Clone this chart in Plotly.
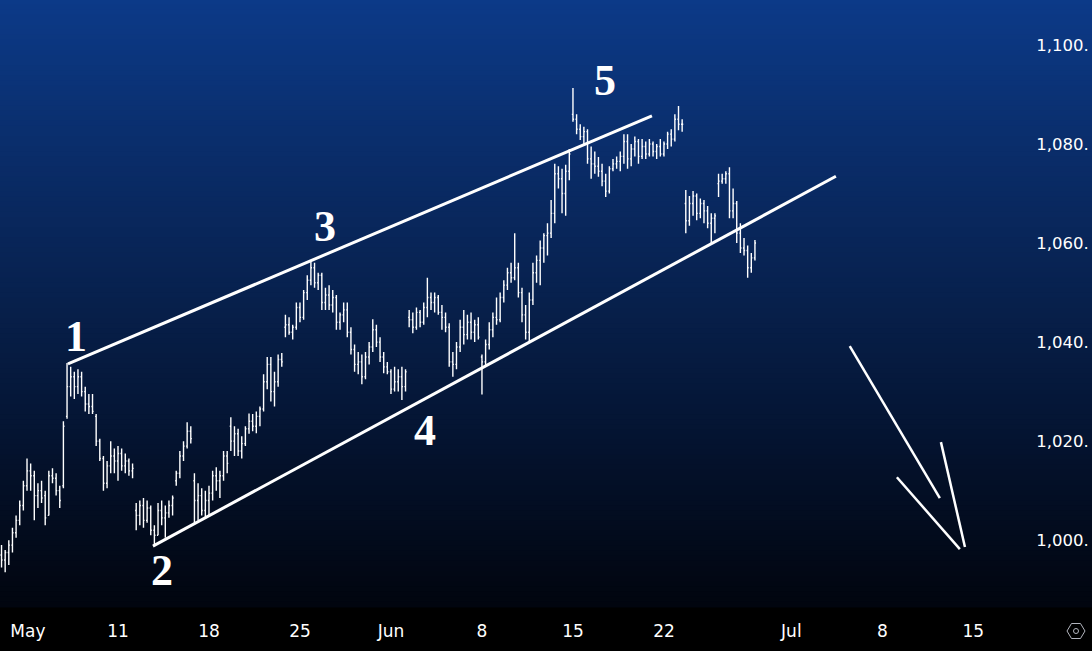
import numpy as np
import plotly.graph_objects as go

# ---------------- data ----------------
bars_per_day = 5          # bars per trading session
first_bar_day = -0.4      # trading-day index of the first bar (0 = May 1)

opens = [
    997, 996, 997.5, 999, 1001.5, 1004, 1007, 1011, 1014, 1013,
    1009, 1010, 1009, 1005, 1013, 1012.5, 1010, 1011, 1025, 1031,
    1033, 1031, 1033, 1030, 1027.5, 1027, 1025, 1020, 1016.5, 1011.5,
    1015, 1017, 1016, 1017.5, 1015, 1016, 1014, 1006, 1005, 1007,
    1004, 1006.5, 1002, 1001, 1006, 1004.5, 1005.5, 1007, 1012, 1013.5,
    1017, 1019, 1022, 1012, 1008, 1009, 1006, 1008, 1009.5, 1013,
    1012, 1013, 1017, 1023, 1020, 1021.5, 1018, 1019.5, 1022.5, 1024,
    1023, 1025, 1026.5, 1032, 1035.5, 1030, 1032, 1036.5, 1043, 1043.5,
    1042, 1043, 1047, 1045, 1050, 1052.5, 1055, 1052, 1053.5, 1048,
    1049.5, 1047.5, 1049, 1044, 1045.5, 1046.5, 1042, 1038.5, 1035.5, 1036,
    1033, 1037, 1039, 1042.5, 1040, 1037, 1035, 1034, 1030.5, 1032,
    1033, 1031, 1045, 1044.5, 1043, 1046, 1044, 1047, 1049, 1048,
    1049, 1046, 1045, 1043, 1036, 1035.5, 1039, 1043, 1041.5, 1044,
    1042, 1043.5, 1037, 1036, 1039.5, 1042.5, 1045, 1044.5, 1049, 1051.5,
    1054, 1053, 1055, 1050, 1045.5, 1042, 1048.5, 1054, 1056.5, 1059,
    1061.5, 1062, 1066, 1074, 1073, 1070, 1074.5, 1086, 1085, 1083,
    1081.5, 1082.5, 1077, 1076, 1075.5, 1074.5, 1072.5, 1070.5, 1075, 1076,
    1076.5, 1077.5, 1080.5, 1077, 1079, 1080.5, 1077.5, 1079.5, 1078, 1080,
    1078.5, 1079.5, 1078, 1080, 1082, 1081, 1085, 1084, 1068, 1064.5,
    1068, 1069.5, 1066, 1068, 1066.5, 1064, 1065, 1072, 1072.5, 1073,
    1074, 1066.5, 1068, 1062, 1059, 1058.5, 1055, 1057,
]
highs = [
    999, 998, 1000, 1002.5, 1005, 1008, 1012, 1016.5, 1015.5, 1014,
    1011.5, 1012, 1010, 1014, 1014.5, 1013.5, 1011, 1024, 1035.8, 1035,
    1034, 1034.5, 1034, 1031, 1029.5, 1029.5, 1025.5, 1020.5, 1017, 1016,
    1020, 1018.5, 1019, 1018.5, 1017.5, 1016.5, 1015.5, 1007.5, 1008, 1008.5,
    1008, 1007, 1003, 1007.5, 1008, 1007, 1008, 1009, 1014, 1018,
    1020, 1023.8, 1023, 1013.5, 1011.5, 1010.5, 1010, 1011, 1014, 1014.7,
    1014, 1018, 1018, 1024.8, 1023, 1022.5, 1021, 1023, 1025.6, 1025.5,
    1026, 1027, 1033.5, 1037, 1037, 1034, 1037.5, 1037.8, 1045.5, 1045,
    1043.5, 1048, 1048, 1050.5, 1053.5, 1056.2, 1056, 1054, 1054, 1051,
    1051.5, 1050.5, 1049.5, 1046, 1048, 1048, 1043, 1039.5, 1038, 1037.5,
    1038, 1040, 1044.6, 1043.5, 1041, 1038, 1036, 1034.5, 1035, 1034.5,
    1035, 1034.5, 1046.5, 1046, 1047, 1046.5, 1048, 1053, 1050, 1050,
    1049.5, 1047.5, 1046, 1043.8, 1038, 1040, 1044.5, 1046.5, 1045.5, 1046,
    1044.5, 1045, 1037.5, 1040.5, 1044, 1046, 1049, 1050, 1052.5, 1055,
    1056, 1062, 1056, 1051, 1047.5, 1050, 1056, 1057.5, 1060.5, 1062,
    1064, 1068.7, 1076, 1075.5, 1075, 1075.8, 1079, 1091.3, 1086, 1084,
    1083.5, 1083, 1079.5, 1078.5, 1077.4, 1076, 1074, 1075.5, 1077, 1077.5,
    1078.5, 1082, 1082, 1080, 1081.5, 1081, 1081, 1080.5, 1081, 1080.5,
    1080, 1081, 1080.5, 1082.5, 1083, 1086, 1087.7, 1085, 1070.7, 1069.5,
    1070.5, 1070, 1069, 1068.7, 1067.5, 1066, 1066, 1074, 1074, 1074.5,
    1075.3, 1071, 1068.5, 1064, 1061, 1059.5, 1058, 1060.6,
]
lows = [
    994.5, 993.5, 995, 997.5, 1000.5, 1003, 1006, 1010, 1010, 1004,
    1006.5, 1007.5, 1003, 1005, 1011.5, 1009, 1006.5, 1010.5, 1024.5, 1029,
    1028.5, 1029.5, 1029, 1026, 1025.5, 1025.5, 1019, 1016, 1010, 1010.5,
    1013.5, 1013.5, 1012, 1014, 1013.5, 1013, 1012.5, 1002, 1003, 1002.5,
    1003.5, 1001, 998.8, 1001, 1003, 1000.5, 1004.5, 1005, 1011, 1012.5,
    1016, 1018.5, 1019.5, 1003.5, 1004, 1005, 1004.5, 1005, 1008, 1010,
    1008.5, 1012, 1013.5, 1018, 1017, 1017, 1016.5, 1019, 1021.5, 1022,
    1021.6, 1023, 1026, 1030.5, 1028, 1027, 1031, 1035, 1041, 1041.5,
    1040.5, 1042.5, 1044, 1044.5, 1048.5, 1051.5, 1051, 1050.5, 1046.5, 1046.5,
    1046.5, 1046, 1042.5, 1042.5, 1044, 1041, 1037.5, 1034, 1033.5, 1031.5,
    1032.5, 1035.5, 1038, 1039, 1036, 1033.7, 1033.5, 1029.5, 1030, 1030,
    1028.3, 1030, 1043, 1041.8, 1042.5, 1043, 1043.5, 1045, 1046.5, 1046,
    1045.5, 1042.5, 1042, 1035, 1033, 1034.5, 1038, 1039.5, 1040.5, 1040.5,
    1040, 1040.5, 1029.4, 1035, 1038.5, 1041, 1043.5, 1044, 1048, 1050.5,
    1052, 1052.5, 1049, 1044, 1040.5, 1040, 1047.5, 1052, 1051.5, 1056,
    1057.5, 1061, 1064, 1071, 1066, 1065.5, 1072.7, 1084.5, 1082, 1080.8,
    1080, 1076, 1073, 1074, 1073.4, 1071.5, 1069.3, 1070, 1074.5, 1075,
    1074.5, 1076, 1075, 1075.5, 1077.5, 1076, 1077, 1077, 1077.5, 1077.5,
    1077, 1077.5, 1077.5, 1079, 1079.5, 1080.5, 1082.8, 1082.5, 1062, 1063.5,
    1065.5, 1064.6, 1065, 1064, 1063, 1060, 1062, 1069.3, 1072, 1072,
    1065, 1065, 1060, 1058, 1057.5, 1053, 1054, 1056.5,
]
closes = [
    996, 997.5, 999, 1001.5, 1004, 1007, 1011, 1014, 1013, 1009,
    1010, 1008.5, 1004.5, 1013, 1012.5, 1010, 1008, 1023, 1031, 1033,
    1031, 1033, 1030, 1027.5, 1027, 1026, 1020, 1016.5, 1011.5, 1015,
    1017, 1016, 1017.5, 1015, 1016, 1014, 1014.5, 1005, 1007, 1004,
    1006.5, 1002, 1001, 1006, 1004.5, 1005.5, 1007, 1008.5, 1013.5, 1017,
    1019, 1022, 1020.5, 1008, 1009, 1006, 1008, 1009.5, 1013, 1012,
    1013, 1017, 1015.5, 1020, 1021.5, 1018, 1019.5, 1022.5, 1024, 1023,
    1025, 1026.5, 1032, 1035.5, 1030, 1032, 1036.5, 1036, 1043.5, 1042,
    1043, 1047, 1045, 1050, 1052.5, 1055, 1052, 1053.5, 1048, 1049.5,
    1047.5, 1049, 1044, 1045.5, 1046.5, 1042, 1038.5, 1035.5, 1036, 1033,
    1037, 1039, 1042.5, 1040, 1037, 1035, 1034, 1030.5, 1032, 1033,
    1031, 1034, 1044.5, 1043, 1046, 1044, 1047, 1049, 1048, 1049,
    1046, 1045, 1043, 1036, 1035.5, 1039, 1043, 1041.5, 1044, 1042,
    1043.5, 1041, 1036, 1039.5, 1042.5, 1045, 1044.5, 1049, 1051.5, 1054,
    1053, 1055, 1050, 1045.5, 1042, 1048.5, 1054, 1056.5, 1059, 1061.5,
    1062, 1066, 1074, 1073, 1070, 1074.5, 1078, 1085, 1083, 1081.5,
    1082.5, 1077, 1076, 1075.5, 1074.5, 1072.5, 1070.5, 1075, 1076, 1076.5,
    1077.5, 1080.5, 1077, 1079, 1080.5, 1077.5, 1079.5, 1078, 1080, 1078.5,
    1079.5, 1078, 1080, 1082, 1081, 1085, 1084, 1084, 1064.5, 1068,
    1069.5, 1066, 1068, 1066.5, 1064, 1065, 1065.5, 1072.5, 1073, 1074,
    1066.5, 1068, 1062, 1059, 1058.5, 1055, 1057, 1060,
]

# time axis (trading-day index, 0 = May 1) and its labels
time_tick_pos = [1.05, 6, 11, 16, 21, 26, 31, 36, 43, 48, 53]
time_tick_text = ["May", "11", "18", "25", "Jun", "8", "15", "22", "Jul", "8", "15"]

# price scale labels (the reference shows them cut after the decimal point)
price_tick_vals = [1000, 1020, 1040, 1060, 1080, 1100]
price_tick_text = ["1,000.", "1,020.", "1,040.", "1,060.", "1,080.", "1,100."]

# drawn channel lines / arrow  (day index, price)
upper_channel = [(3.25, 1035.6), (35.34, 1085.7)]
lower_channel = [(7.92, 998.8), (45.45, 1073.5)]
arrow_strokes = [
    [(46.21, 1039.2), (51.16, 1008.5)],
    [(48.80, 1012.7), (52.26, 998.2)],
    [(51.22, 1019.8), (52.54, 998.6)],
]

# Elliott wave labels
wave_labels = ["1", "2", "3", "4", "5"]
wave_x = [3.69, 8.42, 17.37, 22.87, 32.76]
wave_y = [1041.2, 993.9, 1063.4, 1022.2, 1092.9]

# ---------------- figure ----------------
W, H = 1092, 651
ML, MR, MT, MB = 0, 69, 0, 44
PW, PH = W - ML - MR, H - MT - MB

x_vals = first_bar_day + np.arange(len(closes)) / bars_per_day

fig = go.Figure()
fig.add_trace(go.Ohlc(
    x=x_vals, open=opens, high=highs, low=lows, close=closes,
    increasing=dict(line=dict(color="#ffffff", width=1.4)),
    decreasing=dict(line=dict(color="#ffffff", width=1.4)),
    tickwidth=0.3, hoverinfo="skip", showlegend=False,
))

shapes = []
# vertical background gradient (style)
stops = [(0.0, (12, 58, 136)), (0.25, (10, 45, 106)), (0.5, (7, 32, 76)),
         (0.75, (4, 18, 45)), (1.0, (1, 5, 14))]
n_strips = 120
for k in range(n_strips):
    t = (k + 0.5) / n_strips
    for j in range(len(stops) - 1):
        if stops[j][0] <= t <= stops[j + 1][0]:
            a, ca = stops[j]
            b, cb = stops[j + 1]
            f = (t - a) / (b - a)
            col = tuple(round(ca[i] + (cb[i] - ca[i]) * f) for i in range(3))
            break
    shapes.append(dict(type="rect", xref="paper", yref="paper",
                       x0=-0.01, x1=W / PW + 0.01,
                       y0=1 - (k + 1) / n_strips - 0.001, y1=1 - k / n_strips + 0.001,
                       fillcolor="rgb(%d,%d,%d)" % col, line=dict(width=0),
                       layer="below"))

for (p0, p1) in [upper_channel, lower_channel]:
    shapes.append(dict(type="line", xref="x", yref="y",
                       x0=p0[0], y0=p0[1], x1=p1[0], y1=p1[1],
                       line=dict(color="#ffffff", width=3)))
for (p0, p1) in arrow_strokes:
    shapes.append(dict(type="line", xref="x", yref="y",
                       x0=p0[0], y0=p0[1], x1=p1[0], y1=p1[1],
                       line=dict(color="#ffffff", width=2.5)))

# settings hexagon icon in the corner
def px2paper(px, py):
    return px / PW, (PH - py) / PH
hex_pts = [(1067, 631), (1071.5, 623.5), (1080.5, 623.5), (1085, 631), (1080.5, 638.5), (1071.5, 638.5)]
hp = [px2paper(*p) for p in hex_pts]
path = "M " + " L ".join("%f,%f" % p for p in hp) + " Z"
shapes.append(dict(type="path", xref="paper", yref="paper", path=path,
                   line=dict(color="#b2b5be", width=1)))
c0 = px2paper(1073.5, 628.5)
c1 = px2paper(1078.5, 633.5)
shapes.append(dict(type="circle", xref="paper", yref="paper",
                   x0=c0[0], y0=c1[1], x1=c1[0], y1=c0[1],
                   line=dict(color="#b2b5be", width=1)))

annotations = []
for t, xx, yy in zip(wave_labels, wave_x, wave_y):
    annotations.append(dict(x=xx, y=yy, xref="x", yref="y", text="<b>%s</b>" % t,
                            showarrow=False, xanchor="center", yanchor="middle",
                            font=dict(family="Liberation Serif", size=44, color="#ffffff")))

fig.update_layout(
    width=W, height=H,
    margin=dict(l=ML, r=MR, t=MT, b=MB, pad=0, autoexpand=False),
    paper_bgcolor="#000000", plot_bgcolor="rgba(0,0,0,0)",
    shapes=shapes, annotations=annotations, showlegend=False,
    xaxis=dict(range=[-0.484, 55.73], rangeslider=dict(visible=False),
               showgrid=False, zeroline=False, showline=False, automargin=False,
               tickmode="array", tickvals=time_tick_pos, ticktext=time_tick_text,
               ticks="outside", ticklen=9, tickcolor="rgba(0,0,0,0)",
               tickfont=dict(family="DejaVu Sans", size=17, color="#ffffff"),
               fixedrange=True),
    yaxis=dict(range=[986.5, 1109.09], side="right",
               showgrid=False, zeroline=False, showline=False, automargin=False,
               tickmode="array", tickvals=price_tick_vals, ticktext=price_tick_text,
               ticks="outside", ticklen=9, tickcolor="rgba(0,0,0,0)",
               tickfont=dict(family="DejaVu Sans", size=16.5, color="#ffffff"),
               fixedrange=True),
)
fig.write_html("out.html")
